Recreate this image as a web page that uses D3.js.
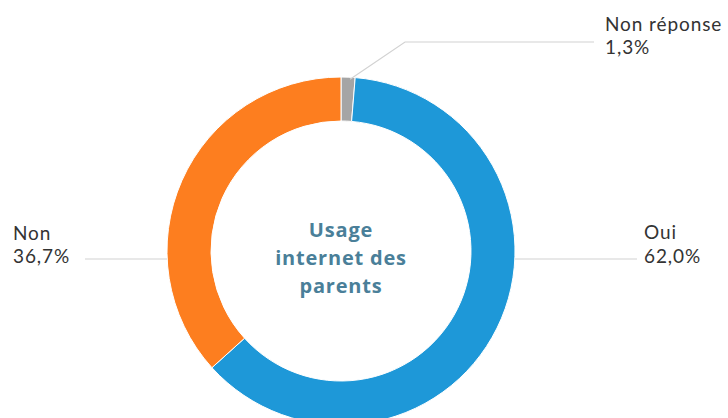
<!DOCTYPE html>
<html><head><meta charset="utf-8">
<script src="https://cdn.jsdelivr.net/npm/d3@7"></script>
<style>
html,body{margin:0;padding:0;background:#fff;}
svg{display:block;}
</style></head>
<body>
<svg id="chart" width="728" height="418"></svg>
<script>
const categories = ["Non réponse", "Oui", "Non"];
const values = [1.3, 62.0, 36.7];
const valueLabels = ["1,3%", "62,0%", "36,7%"];
const colors = ["#a5a5a5", "#1e98d8", "#fd7e1f"];
const centerTitle = ["Usage", "internet des", "parents"];

const W = 728, H = 418;
const cx = 341, cy = 251, rOuter = 174, rInner = 130;
const svg = d3.select("#chart");
const g = svg.append("g").attr("transform", `translate(${cx},${cy})`);

const pie = d3.pie().sort(null).value(d => d.v).startAngle(0).endAngle(2 * Math.PI);
const data = pie(categories.map((c, i) => ({c, v: values[i], lab: valueLabels[i], col: colors[i]})));
const arc = d3.arc().innerRadius(rInner).outerRadius(rOuter);

const labelFont = "Lato, 'Open Sans', sans-serif";
const titleFont = "'Open Sans', sans-serif";
const lineCol = "#d2d2d2";

const lines = svg.append("g").attr("fill", "none").attr("stroke", lineCol).attr("stroke-width", 1.2);
const a0 = data[0];
const midA = (a0.startAngle + a0.endAngle) / 2;
const p0 = [cx + rOuter * Math.sin(midA) + 2, cy - rOuter * Math.cos(midA) + 2];
lines.append("path").attr("d", d3.line()([p0, [405, 42], [594, 42]]));
lines.append("line").attr("x1", cx + rOuter).attr("x2", 637).attr("y1", cy + 8).attr("y2", cy + 8);
lines.append("line").attr("x1", 85).attr("x2", cx - rOuter).attr("y1", cy + 8).attr("y2", cy + 8);

g.selectAll("path.slice").data(data).join("path")
  .attr("class", "slice")
  .attr("d", arc)
  .attr("fill", d => d.data.col)
  .attr("stroke", "#fff").attr("stroke-width", 1);

const labelPos = {
  "Non réponse": {x: 605, y1: 31, y2: 54},
  "Oui": {x: 644, y1: 239, y2: 263},
  "Non": {x: 13, y1: 240, y2: 263}
};
const lab = svg.append("g").attr("font-family", labelFont).attr("fill", "#333")
  .attr("font-size", 19).attr("letter-spacing", 0.9);
data.forEach(d => {
  const p = labelPos[d.data.c];
  lab.append("text").attr("x", p.x).attr("y", p.y1).text(d.data.c);
  lab.append("text").attr("x", p.x).attr("y", p.y2).text(d.data.lab);
});

const ct = svg.append("text").attr("text-anchor", "middle").attr("font-family", titleFont)
  .attr("font-weight", 700).attr("font-size", 20).attr("letter-spacing", 0.8).attr("fill", "#4a7f99");
centerTitle.forEach((t, i) => {
  ct.append("tspan").attr("x", cx).attr("y", 237 + i * 28).text(t);
});
</script>
</body></html>
